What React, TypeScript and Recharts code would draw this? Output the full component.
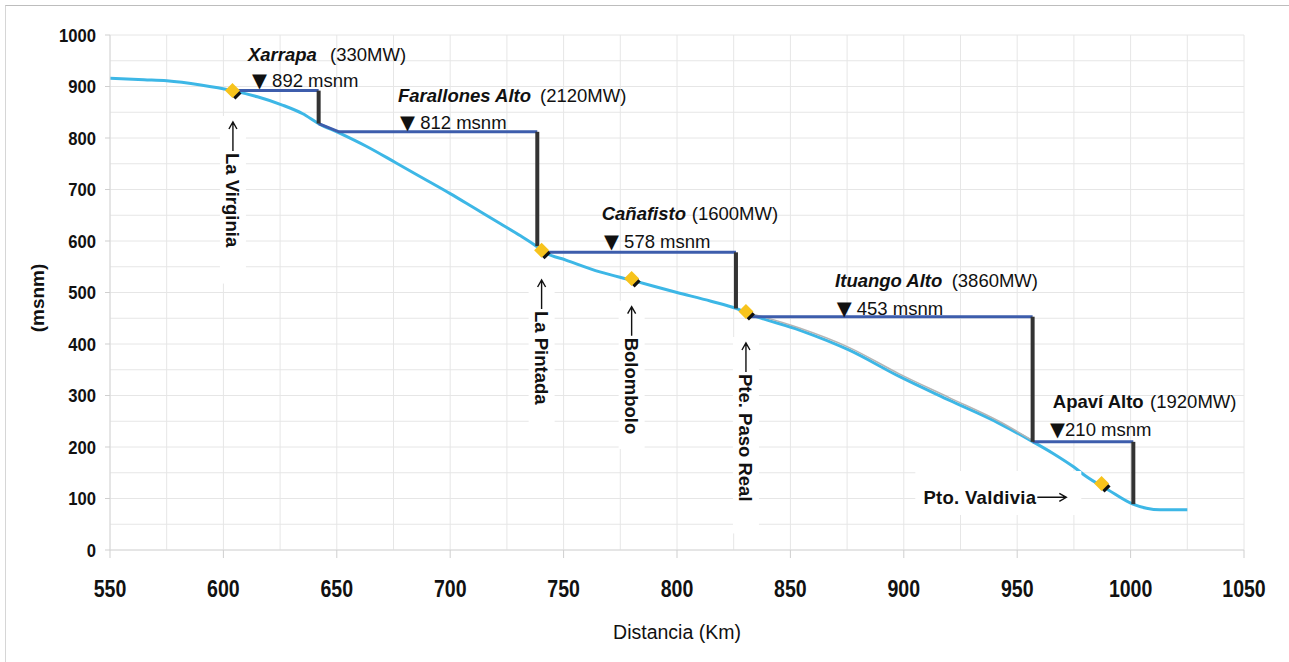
import React from "react";
import { ComposedChart, Line, Scatter, XAxis, YAxis, CartesianGrid, Label } from "recharts";

// Perfil longitudinal del río (km, msnm)
const riverKm = [550, 565, 575, 590, 604, 615, 626, 635, 642, 651, 663, 676, 690, 700, 711, 722, 731, 738, 742, 751, 766, 780, 800, 815, 826, 832, 854, 876, 898, 920, 942, 957, 966, 975, 980, 990, 1001, 1007, 1013, 1025];
const riverM = [916, 913, 911, 903, 892, 880, 864, 847, 828, 810, 784, 752, 717, 692, 663, 634, 610, 590, 577, 563, 540, 524, 500, 483, 469, 458, 427, 388, 337, 291, 246, 210, 187, 161, 144, 117, 89, 81, 78, 78];

// trazo gris paralelo (tramo Ituango)
const grayKm = [832, 854, 876, 898, 920, 942, 957];
const grayM = [460, 431, 393, 342, 296, 250, 212];

// embalses: lámina de agua (azul) y muro de presa (negro)
const damNames = ["Xarrapa", "Farallones Alto", "Cañafisto", "Ituango Alto", "Apaví Alto"];
const damMW = ["(330MW)", "(2120MW)", "(1600MW)", "(3860MW)", "(1920MW)"];
const damLevels = ["▼ 892 msnm", "▼ 812 msnm", "▼ 578 msnm", "▼ 453 msnm", "▼210 msnm"];
const poolKm = [[604, 642], [642, 651, 738.4], [741, 826], [832, 956.8], [956.8, 1001.2]];
const poolM = [[892, 892], [828, 812, 812], [578, 578], [453, 453], [210, 210]];
const wallKm = [642, 738.4, 826, 956.8, 1001.2];
const wallTop = [892, 812, 578, 453, 210];
const wallBottom = [828, 590, 469, 210, 89];

// anclas de los textos de cada presa (km, msnm)
const nameKm = [610.8, 677.0, 766.8, 869.7, 965.7];
const nameM = [949.5, 870.5, 640.8, 510.1, 275.1];
const mwKm = [647.0, 739.6, 806.5, 921.1, 1008.6];
const levelKm = [612.6, 677.9, 767.8, 870.4, 964.5];
const levelM = [899.0, 817.5, 587.0, 456.3, 221.4];

// estaciones
const stationNames = ["La Virginia", "La Pintada", "Bolombolo", "Pte. Paso Real", "Pto. Valdivia"];
const stationKm = [604, 740.3, 780, 830.4, 987.2];
const stationM = [892, 582, 527, 463, 129];
const stationLabelKm = [604.2, 740.3, 780.0, 830.4, 908.6];
const stationLabelM = [831.1, 524.3, 472.4, 401.9, 89.3];

const xTicks = [550, 600, 650, 700, 750, 800, 850, 900, 950, 1000, 1050];
const yTicks = [0, 100, 200, 300, 400, 500, 600, 700, 800, 900, 1000];
const xGrid = [550, 575, 600, 625, 650, 675, 700, 725, 750, 775, 800, 825, 850, 875, 900, 925, 950, 975, 1000, 1025, 1050];
const yGrid = [0, 50, 100, 150, 200, 250, 300, 350, 400, 450, 500, 550, 600, 650, 700, 750, 800, 850, 900, 950, 1000];

const FONT = "'Liberation Sans', Arial, Helvetica, sans-serif";
const SYM = "'DejaVu Sans', sans-serif";
const RIVER = "#3db7e6";
const POOL = "#3d5dac";
const WALL = "#333333";

const river = riverKm.map((km, i) => ({ km, m: riverM[i] }));
const gray = grayKm.map((km, i) => ({ km, m: grayM[i] }));
const pools = poolKm.map((ks, d) => ks.map((km, i) => ({ km, m: poolM[d][i] })));
const walls = wallKm.map((km, i) => [{ km, m: wallTop[i] }, { km, m: wallBottom[i] }]);
const stations = stationKm.map((km, i) => ({ km, m: stationM[i] }));

const labels = [
  ...damNames.map((t, i) => ({ km: nameKm[i], m: nameM[i], kind: i < 4 ? "nameI" : "name", text: t })),
  ...damMW.map((t, i) => ({ km: mwKm[i], m: nameM[i], kind: "plain", text: t })),
  ...damLevels.map((t, i) => ({ km: levelKm[i], m: levelM[i], kind: "plain", text: t })),
  ...stationNames.map((t, i) => ({ km: stationLabelKm[i], m: stationLabelM[i], kind: i < 4 ? "vert" : "horiz", text: t })),
];

const diamond = (x: number, y: number, r: number) => `${x},${y - r} ${x + r},${y} ${x},${y + r} ${x - r},${y}`;

const StationMark = (p: any) => (
  <g>
    <polygon points={diamond(p.cx + 3, p.cy + 3, 6)} fill="#111" />
    <polygon points={diamond(p.cx, p.cy, 7.5)} fill="#f7c31c" />
  </g>
);

const TextMark = (p: any) => {
  const { cx, cy, payload } = p;
  const base = { fontFamily: FONT, fontSize: 18.5, fill: "#111" };
  if (payload.kind === "vert") {
    const len = payload.text.length * 9.6 + 62;
    return (
      <g>
        <rect x={cx - 13} y={cy - 6} width={26} height={len} fill="#fff" />
        <path d={`M${cx},${cy + 29}V${cy}M${cx - 4},${cy + 7}L${cx},${cy}L${cx + 4},${cy + 7}`} stroke="#111" strokeWidth={1.4} fill="none" />
        <text transform={`translate(${cx},${cy + 31}) rotate(90)`} dominantBaseline="central" style={{ ...base, fontWeight: 700 }}>
          {payload.text}
        </text>
      </g>
    );
  }
  if (payload.kind === "horiz") {
    const ay = cy - 6.7;
    return (
      <g>
        <rect x={cx - 8} y={cy - 33} width={166} height={44} fill="#fff" />
        <text x={cx + 113} y={cy} textAnchor="end" style={{ ...base, fontWeight: 700, letterSpacing: 0.3 }}>
          {payload.text}
        </text>
        <path d={`M${cx + 114},${ay}H${cx + 143}M${cx + 136},${ay - 4}L${cx + 143},${ay}L${cx + 136},${ay + 4}`} stroke="#111" strokeWidth={1.4} fill="none" />
      </g>
    );
  }
  const weight = payload.kind === "plain" ? 400 : 700;
  const italic = payload.kind === "nameI" ? "italic" : "normal";
  const t: string = payload.text;
  if (t.startsWith("▼")) {
    return (
      <text x={cx} y={cy} style={{ ...base, fontWeight: weight }}>
        <tspan style={{ fontFamily: SYM, fontSize: 19.5 }}>▼</tspan>
        {t.slice(1)}
      </text>
    );
  }
  return (
    <text x={cx} y={cy} style={{ ...base, fontWeight: weight, fontStyle: italic }}>
      {t}
    </text>
  );
};

const XTick = (p: any) => (
  <text transform={`translate(${p.x},${p.y + 37}) scale(0.85,1)`} textAnchor="middle"
    style={{ fontFamily: FONT, fontSize: 23, fontWeight: 700, fill: "#111" }}>
    {p.payload.value}
  </text>
);

const YTick = (p: any) => (
  <text transform={`translate(${p.x},${p.y + 6.6}) scale(0.9,1)`} textAnchor="end"
    style={{ fontFamily: FONT, fontSize: 18.5, fontWeight: 700, fill: "#111" }}>
    {p.payload.value}
  </text>
);

const YTitle = () => (
  <text transform="translate(37,298) rotate(-90)" textAnchor="middle" dominantBaseline="central"
    style={{ fontFamily: FONT, fontSize: 19, fontWeight: 700, fill: "#111" }}>
    (msnm)
  </text>
);

export default function App() {
  return (
    <div style={{ position: "absolute", left: 0, top: 0, width: 1289, height: 662, background: "#fff", overflow: "hidden" }}>
      <div style={{ position: "absolute", left: 5, top: 5, width: 1400, height: 800, borderTop: "1px solid #bdbdbd", borderLeft: "1px solid #d6d6d6" }} />
      <ComposedChart width={1289} height={662} margin={{ top: 35, right: 45, bottom: 0, left: 0 }} style={{ position: "absolute", left: 0, top: 0 }}>
        <CartesianGrid stroke="#e6e6e6" verticalValues={xGrid} horizontalValues={yGrid} />
        <XAxis type="number" dataKey="km" domain={[550, 1050]} ticks={xTicks} allowDataOverflow
          height={112} tickSize={8} tick={<XTick />} axisLine={{ stroke: "#d8d8d8" }} tickLine={{ stroke: "#cfcfcf" }}>
          <Label value="Distancia (Km)" position="insideBottom" offset={23}
            style={{ fontFamily: FONT, fontSize: 19.5, fill: "#111" }} />
        </XAxis>
        <YAxis type="number" domain={[0, 1000]} ticks={yTicks} allowDataOverflow width={110}
          tickSize={5} tickMargin={9} tick={<YTick />} axisLine={{ stroke: "#d8d8d8" }} tickLine={{ stroke: "#cfcfcf" }}
          label={{ content: YTitle }} />
        <Line data={river} dataKey="m" type="monotone" stroke={RIVER} strokeWidth={3} dot={false} activeDot={false} isAnimationActive={false} />
        <Line data={gray} dataKey="m" type="monotone" stroke="#b5b5b5" strokeWidth={1.5} dot={false} activeDot={false} isAnimationActive={false} />
        {pools.map((d, i) => (
          <Line key={"p" + i} data={d} dataKey="m" type="linear" stroke={POOL} strokeWidth={3} dot={false} activeDot={false} isAnimationActive={false} />
        ))}
        {walls.map((d, i) => (
          <Line key={"w" + i} data={d} dataKey="m" type="linear" stroke={WALL} strokeWidth={4} dot={false} activeDot={false} isAnimationActive={false} />
        ))}
        <Scatter data={labels} dataKey="m" shape={TextMark} isAnimationActive={false} />
        <Scatter data={stations} dataKey="m" shape={StationMark} isAnimationActive={false} />
      </ComposedChart>
    </div>
  );
}
